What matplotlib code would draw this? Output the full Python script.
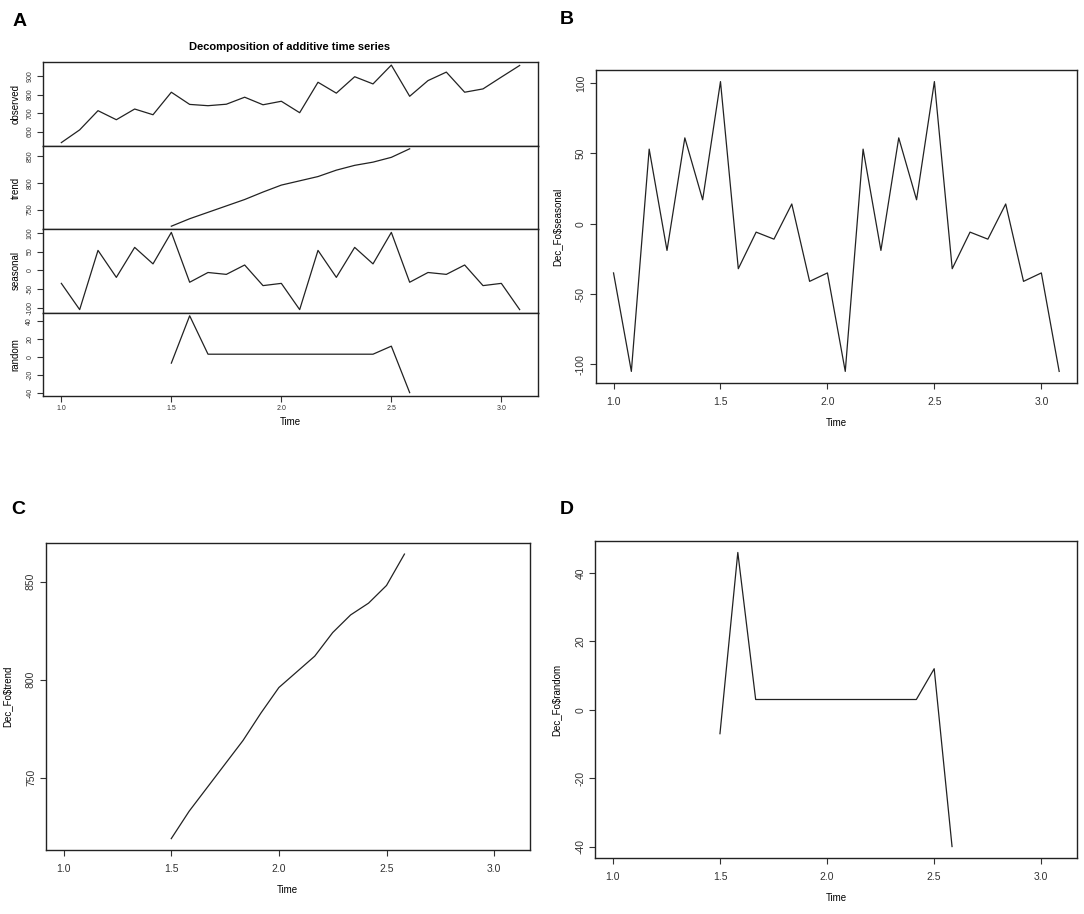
import matplotlib
matplotlib.use("Agg")
import matplotlib.pyplot as plt
import numpy as np

plt.rcParams['font.family'] = ['Liberation Sans', 'DejaVu Sans']

nan = np.nan
# ts(start=1, frequency=12), 26 months
months = list(range(26))
time = [1 + m / 12 for m in months]

observed = [540, 609, 713, 664, 722, 691, 813, 747, 740, 748, 786, 745, 764,
            702, 867, 808, 897, 858, 960, 791, 876, 922, 813, 831, 895, 958]
trend = [nan, nan, nan, nan, nan, nan,
         719, 733, 745, 757, 769, 783, 796, 804, 812, 824, 833, 839, 848, 864,
         nan, nan, nan, nan, nan, nan]
seasonal = [-35, -105, 53, -19, 61, 17, 101, -32, -6, -11, 14, -41, -35,
            -105, 53, -19, 61, 17, 101, -32, -6, -11, 14, -41, -35, -105]
random = [nan, nan, nan, nan, nan, nan,
          -7, 46, 3, 3, 3, 3, 3, 3, 3, 3, 3, 3, 12, -40,
          nan, nan, nan, nan, nan, nan]

xticks = [1.0, 1.5, 2.0, 2.5, 3.0]
obs_ticks = [600, 700, 800, 900]
trend_ticks = [750, 800, 850]
seas_ticks = [-100, -50, 0, 50, 100]
rand_ticks = [-40, -20, 0, 20, 40]

W, H = 1084, 914
fig = plt.figure(figsize=(W / 100, H / 100), dpi=100)


def box(x0, y0, x1, y1):
    # pixel box (top-left origin) -> figure axes
    return fig.add_axes([x0 / W, 1 - y1 / H, (x1 - x0) / W, (y1 - y0) / H])


def rlim(vals):
    v = np.array(vals, dtype=float)
    lo, hi = np.nanmin(v), np.nanmax(v)
    pad = 0.04 * (hi - lo)
    return lo - pad, hi + pad


def style(ax, yt, fs):
    ax.set_xlim(*rlim(time))
    ax.set_yticks(yt)
    ax.set_yticklabels([str(t) for t in yt], rotation=90, va='center')
    ax.tick_params(direction='out', length=4, width=0.8, labelsize=fs,
                   colors='#333333', pad=3)
    for s in ax.spines.values():
        s.set_linewidth(1.0)
        s.set_color('#222222')


line_kw = dict(color='#222222', lw=0.9)

# Panel A
edges = [62, 145.7, 229.3, 312.7, 395.7]
comps = [(observed, 'observed', obs_ticks), (trend, 'trend', trend_ticks),
         (seasonal, 'seasonal', seas_ticks), (random, 'random', rand_ticks)]
for i, (vals, name, yt) in enumerate(comps):
    ax = box(43, edges[i], 538, edges[i + 1])
    ax.plot(time, vals, **line_kw)
    ax.set_ylim(*rlim(vals))
    style(ax, yt, 5)
    ax.set_ylabel(name, fontsize=7, labelpad=4)
    if i < 3:
        ax.set_xticks([])
    else:
        ax.set_xticks(xticks)
        ax.set_xticklabels([f"{t:.1f}" for t in xticks])
        ax.set_xlabel('Time', fontsize=7, labelpad=3)
fig.text(290 / W, 1 - 47 / H, 'Decomposition of additive time series',
         ha='center', va='center', fontsize=8, fontweight='bold')

# Panels B, C, D
panels = [((595.7, 70, 1077, 383), seasonal, 'Dec_Fo$seasonal', seas_ticks),
          ((45.7, 542.7, 530, 850), trend, 'Dec_Fo$trend', trend_ticks),
          ((595, 540.7, 1077, 858.3), random, 'Dec_Fo$random', rand_ticks)]
for (x0, y0, x1, y1), vals, name, yt in panels:
    ax = box(x0, y0, x1, y1)
    ax.plot(time, vals, **line_kw)
    ax.set_ylim(*rlim(vals))
    style(ax, yt, 7.5)
    ax.set_xticks(xticks)
    ax.set_xticklabels([f"{t:.1f}" for t in xticks])
    ax.tick_params(axis='x', pad=6)
    ax.set_xlabel('Time', fontsize=7, labelpad=8)
    ax.set_ylabel(name.replace('$', r'\$'), fontsize=7, labelpad=10)

for lab, x, y in [('A', 20, 22), ('B', 567, 20), ('C', 18, 510), ('D', 567, 510)]:
    fig.text(x / W, 1 - y / H, lab, ha='center', va='center',
             fontsize=14, fontweight='bold')

fig.savefig('out.png', dpi=100)
